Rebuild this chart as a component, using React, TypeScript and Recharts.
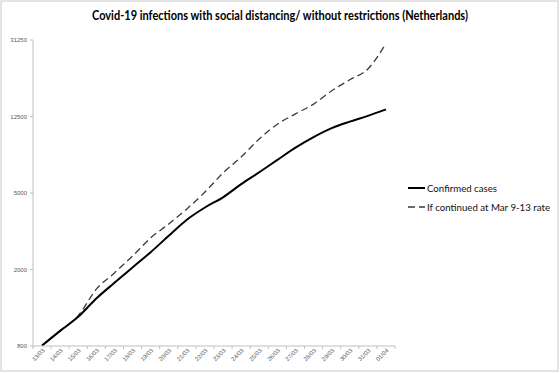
import React from "react";
import { LineChart, Line, XAxis, YAxis } from "recharts";

// day labels along the x axis
const dates = [
  "13/03", "14/03", "15/03", "16/03", "17/03", "18/03", "19/03", "20/03", "21/03", "22/03",
  "23/03", "24/03", "25/03", "26/03", "27/03", "28/03", "29/03", "30/03", "31/03", "01/04",
];

// reported cases
const confirmed = [
  804, 959, 1135, 1413, 1705, 2051, 2460, 2994, 3631, 4204,
  4749, 5560, 6412, 7431, 8603, 9762, 10866, 11750, 12595, 13614,
];

// projection at the Mar 9-13 growth rate
const unrestricted = [
  804, 960, 1150, 1580, 1920, 2350, 2920, 3450, 4130, 5060,
  6350, 7700, 9550, 11400, 12900, 14500, 17000, 19400, 22100, 30000,
];

const yTicks = [800, 2000, 5000, 12500, 31250];
const seriesNames = ["Confirmed cases", "If continued at Mar 9-13 rate"];
const title = "Covid-19 infections with social distancing/ without restrictions (Netherlands)";

const data = dates.map((d, i) => ({ date: d, confirmed: confirmed[i], unrestricted: unrestricted[i] }));

const W = 560;
const H = 373;
const AXIS = "#bfbfbf";
const TICK_TEXT = "#595959";
const HALF = 9.05; // half a category, used for the between-day tick marks
const FONT = "'Liberation Sans', Arial, sans-serif";

const DateTick = (props: any) => {
  const { x, y, payload, index } = props;
  return (
    <g>
      {index === 0 && <line x1={x - HALF} x2={x - HALF} y1={y} y2={y + 3} stroke={AXIS} />}
      <line x1={x + HALF} x2={x + HALF} y1={y} y2={y + 3} stroke={AXIS} />
      <text
        x={x + 3}
        y={y + 5}
        textAnchor="end"
        fontSize={6}
        fontFamily={FONT}
        fill={TICK_TEXT}
        transform={`rotate(-45 ${x + 3} ${y + 5})`}
      >
        {payload.value}
      </text>
    </g>
  );
};

export default function App() {
  return (
    <div style={{ position: "fixed", left: 0, top: 0, width: W, height: H, background: "#fff" }}>
      <LineChart width={W} height={H} data={data} margin={{ top: 40, right: 165, left: 0, bottom: 0 }}>
        <XAxis
          dataKey="date"
          height={27}
          padding={{ left: 9, right: 9 }}
          interval={0}
          tickLine={false}
          tickSize={0}
          tickMargin={0}
          axisLine={{ stroke: AXIS }}
          tick={<DateTick />}
        />
        <YAxis
          type="number"
          scale="log"
          domain={[800, 31250]}
          ticks={yTicks}
          interval={0}
          allowDataOverflow
          width={33}
          tickSize={3}
          tickMargin={3}
          axisLine={{ stroke: AXIS }}
          tickLine={{ stroke: AXIS }}
          tick={{ fontSize: 6, fill: TICK_TEXT, fontFamily: FONT }}
        />
        <Line
          type="monotone"
          dataKey="unrestricted"
          name={seriesNames[1]}
          stroke="#3a3a3a"
          strokeWidth={1.3}
          strokeDasharray="7 4"
          dot={false}
          isAnimationActive={false}
        />
        <Line
          type="monotone"
          dataKey="confirmed"
          name={seriesNames[0]}
          stroke="#000"
          strokeWidth={2}
          dot={false}
          isAnimationActive={false}
        />
      </LineChart>
      <svg width={W} height={H} style={{ position: "absolute", left: 0, top: 0, pointerEvents: "none" }}>
        <rect x={1} y={1} width={557} height={370} fill="none" stroke="#c8c8c8" />
        <text
          x={280}
          y={20}
          textAnchor="middle"
          fontSize={13}
          fontWeight="bold"
          fontFamily="Lato, sans-serif"
          textLength={376}
          lengthAdjust="spacingAndGlyphs"
          fill="#000"
        >
          {title}
        </text>
        <line x1={408} x2={425} y1={188} y2={188} stroke="#000" strokeWidth={2} />
        <text x={427} y={191.5} fontSize={10} fontFamily="Lato, sans-serif" textLength={70} lengthAdjust="spacingAndGlyphs" fill="#111">
          {seriesNames[0]}
        </text>
        <line x1={408} x2={425} y1={207} y2={207} stroke="#3a3a3a" strokeWidth={1.3} strokeDasharray="7 4" />
        <text x={427} y={210.5} fontSize={10} fontFamily="Lato, sans-serif" textLength={123} lengthAdjust="spacingAndGlyphs" fill="#111">
          {seriesNames[1]}
        </text>
      </svg>
    </div>
  );
}
